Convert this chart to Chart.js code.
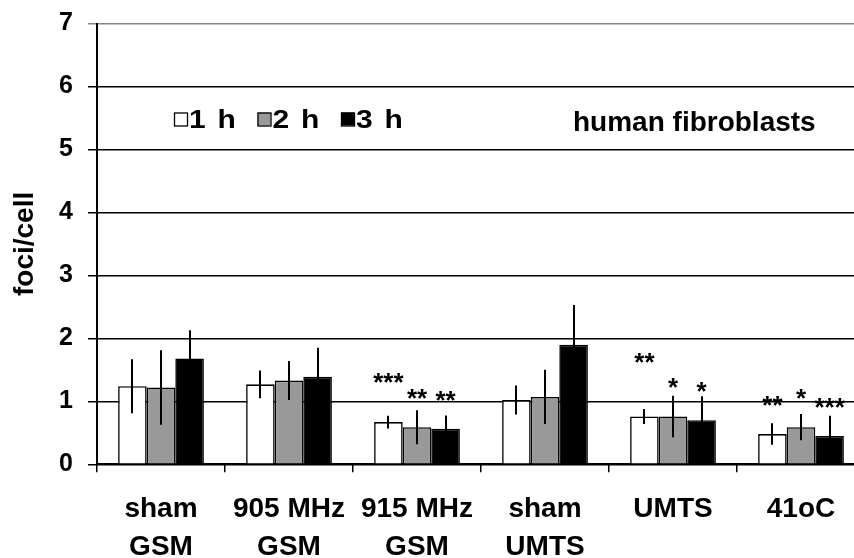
<!DOCTYPE html>
<html>
<head>
<meta charset="utf-8">
<script src="https://cdn.jsdelivr.net/npm/chart.js@4"></script>
<style>
html,body{margin:0;padding:0;background:#fff;overflow:hidden;}
canvas{display:block;}
</style>
</head>
<body>
<canvas id="c" width="868" height="558"></canvas>
<script>
const categories = [['sham','GSM'],['905 MHz','GSM'],['915 MHz','GSM'],['sham','UMTS'],['UMTS',''],['41oC','']];
const seriesNames = ['1 h','2 h','3 h'];
const values1h = [1.24, 1.27, 0.67, 1.02, 0.76, 0.48];
const values2h = [1.22, 1.33, 0.59, 1.07, 0.76, 0.59];
const values3h = [1.68, 1.39, 0.565, 1.90, 0.70, 0.45];
const err1h = [0.43, 0.22, 0.10, 0.23, 0.12, 0.17];
const err2h = [0.59, 0.31, 0.27, 0.43, 0.33, 0.21];
const err3h = [0.45, 0.46, 0.21, 0.63, 0.38, 0.32];
const stars1h = ['', '', '***', '', '**', '**'];
const stars2h = ['', '', '**', '', '*', '*'];
const stars3h = ['', '', '**', '', '*', '***'];
const starY1h = [0, 0, 1.40, 0, 1.72, 1.04];
const starY2h = [0, 0, 1.15, 0, 1.32, 1.15];
const starY3h = [0, 0, 1.12, 0, 1.26, 1.01];
const yTicks = [0,1,2,3,4,5,6,7];
const panelLabel = 'human fibroblasts';
const yTitle = 'foci/cell';

const FONT = '"Liberation Sans", Arial, sans-serif';

const errorBarPlugin = {
  id: 'errorBars',
  afterDatasetsDraw(chart) {
    const ctx = chart.ctx;
    const ys = chart.scales.y;
    ctx.save();
    ctx.strokeStyle = '#000';
    ctx.lineWidth = 2;
    chart.data.datasets.forEach((ds, di) => {
      const meta = chart.getDatasetMeta(di);
      meta.data.forEach((el, i) => {
        const v = ds.data[i], e = ds.errors[i];
        const y1 = ys.getPixelForValue(v + e), y2 = ys.getPixelForValue(Math.max(0, v - e));
        ctx.beginPath();
        ctx.moveTo(Math.round(el.x), y1);
        ctx.lineTo(Math.round(el.x), y2);
        ctx.stroke();
      });
    });
    // significance stars
    const fs = 26;
    ctx.fillStyle = '#000';
    ctx.font = 'bold ' + fs + 'px ' + FONT;
    ctx.textAlign = 'center';
    ctx.textBaseline = 'alphabetic';
    chart.data.datasets.forEach((ds, di) => {
      const meta = chart.getDatasetMeta(di);
      meta.data.forEach((el, i) => {
        const s = ds.stars[i];
        if (!s) return;
        ctx.fillText(s, el.x, ys.getPixelForValue(ds.starY[i]) + 0.58 * fs);
      });
    });
    ctx.restore();
  }
};

const legendPlugin = {
  id: 'customLegend',
  afterDraw(chart, args, opts) {
    const ctx = chart.ctx;
    ctx.save();
    ctx.textBaseline = 'alphabetic';
    ctx.textAlign = 'left';
    let x = opts.x;
    chart.data.datasets.forEach(ds => {
      ctx.fillStyle = ds.backgroundColor;
      ctx.fillRect(x, opts.boxTop, 13, 13);
      ctx.strokeStyle = '#000';
      ctx.lineWidth = 1.3;
      ctx.strokeRect(x + 0.5, opts.boxTop + 0.5, 13, 13);
      ctx.fillStyle = '#000';
      ctx.save();
      ctx.translate(x + 15, opts.baseline);
      ctx.scale(1.2, 1);
      ctx.font = 'bold 25px ' + FONT;
      try { ctx.letterSpacing = '1.5px'; } catch (e) {}
      ctx.fillText(ds.label, 0, 0);
      ctx.restore();
      x += opts.pitch;
    });
    ctx.font = 'bold 28px ' + FONT;
    ctx.fillStyle = '#000';
    ctx.fillText(panelLabel, opts.panelX, opts.panelBaseline);
    ctx.restore();
  }
};

const mk = (label, data, errors, stars, starY, color) => ({
  label, data, errors, stars, starY,
  backgroundColor: color,
  borderColor: '#000',
  borderWidth: 1.6,
  categoryPercentage: 0.67,
  barPercentage: 1.0
});

new Chart(document.getElementById('c'), {
  type: 'bar',
  data: {
    labels: categories,
    datasets: [
      mk(seriesNames[0], values1h, err1h, stars1h, starY1h, '#ffffff'),
      mk(seriesNames[1], values2h, err2h, stars2h, starY2h, '#999999'),
      mk(seriesNames[2], values3h, err3h, stars3h, starY3h, '#000000')
    ]
  },
  options: {
    responsive: false,
    animation: false,
    layout: { padding: { top: 23.5, right: 3, left: 0, bottom: 0 } },
    plugins: {
      legend: { display: false },
      tooltip: { enabled: false },
      customLegend: { x: 174, boxTop: 112.5, baseline: 128, pitch: 83.5, panelX: 573, panelBaseline: 131 }
    },
    scales: {
      x: {
        grid: { drawOnChartArea: false, color: '#000', lineWidth: 1.5, tickLength: 8, offset: true },
        border: { color: '#000', width: 2 },
        ticks: { color: '#000', font: { family: FONT, size: 28, weight: 'bold', lineHeight: 1.36 }, padding: 18, maxRotation: 0, autoSkip: false },
        afterFit(s) { s.height = 93.7; s.paddingLeft = 0; s.paddingRight = 0; }
      },
      y: {
        min: 0, max: 7,
        afterBuildTicks(s) { s.ticks = yTicks.map(v => ({ value: v })); },
        grid: { color: ctx => ctx.tick && ctx.tick.value === 7 ? '#888' : '#000', lineWidth: 1.5, tickLength: 9 },
        border: { color: '#000', width: 2 },
        ticks: { color: '#000', font: { family: FONT, size: 25, weight: 'bold' }, padding: 15 },
        title: { display: true, text: yTitle, color: '#000', font: { family: FONT, size: 28, weight: 'bold' }, padding: { top: 8, bottom: 0 } },
        afterFit(s) { s.width = 97; s.paddingTop = 0; s.paddingBottom = 0; }
      }
    }
  },
  plugins: [errorBarPlugin, legendPlugin]
});
</script>
</body>
</html>
